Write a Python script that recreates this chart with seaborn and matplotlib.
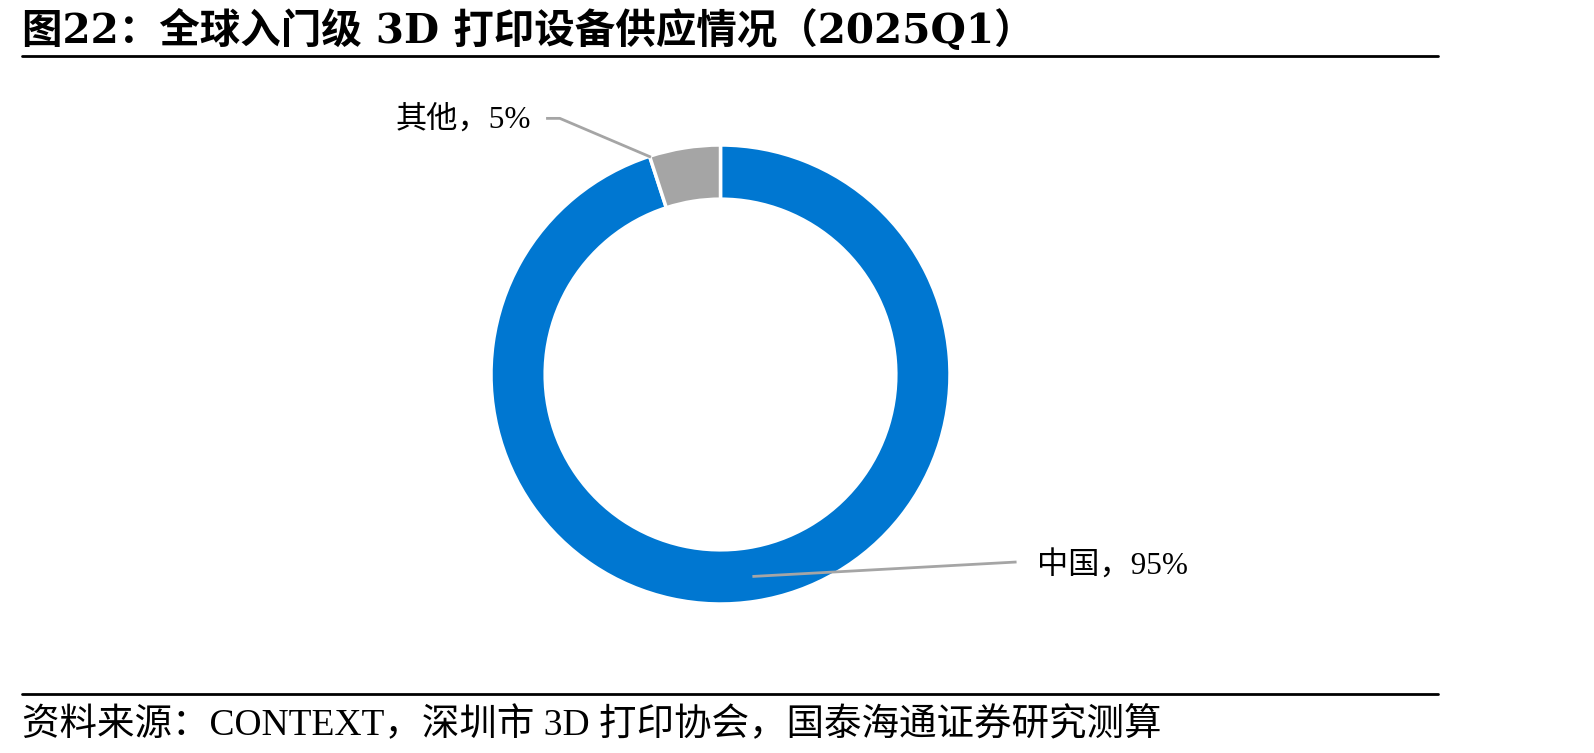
# -*- coding: utf-8 -*-
"""
全球入门级 3D 打印设备供应情况 (2025Q1) - donut chart
"""

import matplotlib
matplotlib.use("Agg")
import matplotlib.pyplot as plt
from matplotlib.lines import Line2D
import seaborn as sns

sns.set_theme(style="white")
plt.rcParams['font.family'] = ['Liberation Serif', 'Noto Sans CJK SC', 'DejaVu Sans']

#%% data
regions = ['中国', '其他']
shares = [95, 5]
colors = ['#0077D1', '#A5A5A5']

title = '图22：全球入门级 3D 打印设备供应情况（2025Q1）'
source = '资料来源：CONTEXT，深圳市 3D 打印协会，国泰海通证券研究测算'

#%% figure
W, H = 1594, 753
fig = plt.figure(figsize=(W / 100, H / 100), dpi=100)

# donut axes: centre (720.5, 374.5) px, radius 229.5 px
cx, cy, r = 720.5, 374.5, 229.5
ax = fig.add_axes([(cx - r) / W, (H - cy - r) / H, 2 * r / W, 2 * r / H])

wedges, _ = ax.pie(shares, colors=colors, startangle=90, counterclock=False,
                   radius=1, wedgeprops=dict(width=0.236, edgecolor='white', linewidth=2.5))
ax.set_xlim(-1, 1)
ax.set_ylim(-1, 1)
ax.set_aspect('equal')
ax.axis('off')

# leader lines
lead_col = '#A5A5A5'
ax.plot([0.139, 1.29], [-0.880, -0.817], color=lead_col, lw=2, clip_on=False,
        solid_capstyle='butt')
ax.plot([-0.76, -0.70, -0.303], [1.116, 1.116, 0.947], color=lead_col, lw=2,
        clip_on=False, solid_capstyle='butt')

# labels
ax.text(1.38, -0.835, f'{regions[0]}，{shares[0]}%', ha='left', va='center',
        fontsize=22.5, color='black')
ax.text(-0.825, 1.107, f'{regions[1]}，{shares[1]}%', ha='right', va='center',
        fontsize=22.5, color='black')

#%% title, rules, source
fig.text(22.4 / W, 1 - 30.5 / H, title, fontsize=29.2, fontweight='bold',
         family=['DejaVu Serif', 'Noto Sans CJK SC'],
         ha='left', va='center', color='black')
fig.add_artist(Line2D([22.4 / W, 1438 / W], [1 - 56 / H, 1 - 56 / H],
                      color='black', lw=2, transform=fig.transFigure))
fig.add_artist(Line2D([22.4 / W, 1438 / W], [1 - 694 / H, 1 - 694 / H],
                      color='black', lw=2, transform=fig.transFigure))
fig.text(22.4 / W, 1 - 725 / H, source, fontsize=27, ha='left', va='center', color='black')

fig.savefig('out.png', dpi=100, facecolor='white')
